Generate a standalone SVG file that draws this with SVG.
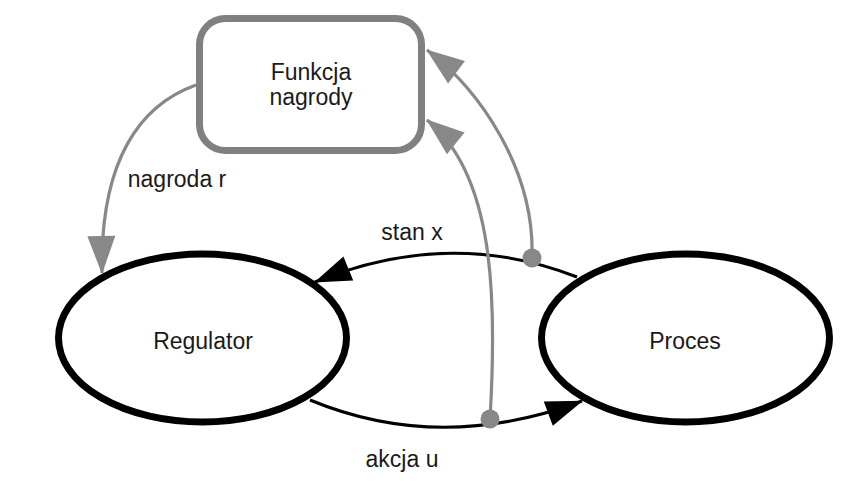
<svg xmlns="http://www.w3.org/2000/svg" width="850" height="481" viewBox="0 0 850 481">
  <style>
    .lbl { font-family: "Liberation Sans", Arial, sans-serif; font-size: 23px; fill: #1a1a1a; text-anchor: middle; }
    .ell { fill: #ffffff; stroke: #000000; stroke-width: 7; }
    .box { fill: #ffffff; stroke: #808080; stroke-width: 7; }
    .blk { fill: none; stroke: #000000; stroke-width: 3; }
    .gry { fill: none; stroke: #888888; stroke-width: 3.2; }
    .dot { fill: #888888; }
  </style>
  <defs>
    <marker id="ab" markerUnits="userSpaceOnUse" markerWidth="40" markerHeight="30" refX="36" refY="13" orient="auto" overflow="visible">
      <path d="M0,0 L37,13 L0,26 z" fill="#000000"/>
    </marker>
    <marker id="ag" markerUnits="userSpaceOnUse" markerWidth="42" markerHeight="30" refX="37" refY="14" orient="auto" overflow="visible">
      <path d="M0,0 L38,14 L0,28 z" fill="#888888"/>
    </marker>
  </defs>
  <rect width="850" height="481" fill="#ffffff"/>

  <g id="node-funkcja">
    <rect class="box" x="199.5" y="18.5" width="222" height="132" rx="26" ry="26"/>
    <text class="lbl" x="311" y="80">Funkcja</text>
    <text class="lbl" x="311" y="105">nagrody</text>
  </g>
  <g id="node-regulator">
    <ellipse class="ell" cx="202.5" cy="338" rx="144" ry="84"/>
    <text class="lbl" x="203" y="349">Regulator</text>
  </g>
  <g id="node-proces">
    <ellipse class="ell" cx="685.5" cy="338" rx="144" ry="84"/>
    <text class="lbl" x="685" y="349">Proces</text>
  </g>

  <g id="connectors">
    <path class="blk" d="M577,277 Q450,227 315,282" marker-end="url(#ab)"/>
    <path class="blk" d="M310,400 Q440,454 582,401" marker-end="url(#ab)"/>
    <path class="gry" d="M196,85 C140,105 100,160 102,273" marker-end="url(#ag)"/>
    <path class="gry" d="M532,258 C535,170 480,90 427,50" marker-end="url(#ag)"/>
    <path class="gry" d="M490,419 C497,300 495,175 427,120" marker-end="url(#ag)"/>
    <circle class="dot" cx="532" cy="258" r="9.5"/>
    <circle class="dot" cx="490" cy="419" r="9.5"/>
    <text class="lbl" x="412" y="240">stan x</text>
    <text class="lbl" x="402" y="467">akcja u</text>
    <text class="lbl" x="177" y="187">nagroda r</text>
  </g>
</svg>
